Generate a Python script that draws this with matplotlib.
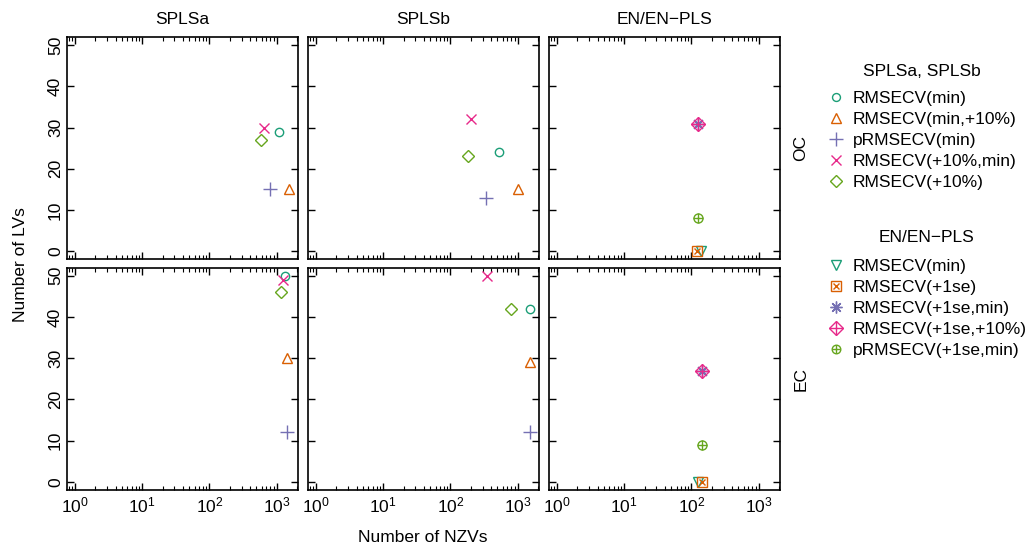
import matplotlib
matplotlib.use("Agg")
import matplotlib.pyplot as plt
from matplotlib.lines import Line2D
from matplotlib.legend_handler import HandlerTuple
from matplotlib.ticker import LogLocator, FixedLocator, NullFormatter, LogFormatterSciNotation

plt.rcParams['font.family'] = ['Liberation Sans', 'DejaVu Sans']
plt.rcParams['mathtext.fontset'] = 'custom'
plt.rcParams['mathtext.rm'] = 'Liberation Sans'
plt.rcParams['mathtext.it'] = 'Liberation Sans:italic'

# ---------------- data ----------------
methods = ["SPLSa", "SPLSb", "EN/EN\u2212PLS"]
responses = ["OC", "EC"]

spls_labels = ["RMSECV(min)", "RMSECV(min,+10%)", "pRMSECV(min)",
               "RMSECV(+10%,min)", "RMSECV(+10%)"]
en_labels = ["RMSECV(min)", "RMSECV(+1se)", "RMSECV(+1se,min)",
             "RMSECV(+1se,+10%)", "pRMSECV(+1se,min)"]

# number of non-zero variables (x) and number of latent variables (y)
splsa_oc_nzv = [1080, 1510, 800, 640, 590]
splsa_oc_lv = [29, 15, 15, 30, 27]
splsb_oc_nzv = [525, 1030, 343, 200, 184]
splsb_oc_lv = [24, 15, 13, 32, 23]
en_oc_nzv = [141, 122, 124, 124, 124]
en_oc_lv = [0, 0, 31, 31, 8]

splsa_ec_nzv = [1340, 1450, 1450, 1225, 1155]
splsa_ec_lv = [50, 30, 12, 49, 46]
splsb_ec_nzv = [1510, 1540, 1510, 347, 810]
splsb_ec_lv = [42, 29, 12, 50, 42]
en_ec_nzv = [126, 142, 142, 142, 142]
en_ec_lv = [0, 0, 27, 27, 9]

panels = {
    ("OC", 0): (splsa_oc_nzv, splsa_oc_lv),
    ("OC", 1): (splsb_oc_nzv, splsb_oc_lv),
    ("OC", 2): (en_oc_nzv, en_oc_lv),
    ("EC", 0): (splsa_ec_nzv, splsa_ec_lv),
    ("EC", 1): (splsb_ec_nzv, splsb_ec_lv),
    ("EC", 2): (en_ec_nzv, en_ec_lv),
}

# ---------------- styles ----------------
teal, orange, purple, pink, green = "#1B9E77", "#D95F02", "#7570B3", "#E7298A", "#66A61E"
colors = [teal, orange, purple, pink, green]

# each style is a list of (marker, size) layers
spls_styles = [[("o", 6.0)], [("^", 7.5)], [("+", 10)], [("x", 7)], [("D", 6.0)]]
en_styles = [[("v", 7.5)], [("s", 7), ("x", 5)], [((8, 2, 0), 9)],
             [("D", 7.5), ("+", 10)], [("o", 6.5), ("+", 6.5)]]

W, H = 1031, 548
fig = plt.figure(figsize=(W / 100, H / 100), dpi=100)

col_left = [66.5, 307.5, 548.5]
col_w = 231.5
row_top = [37.0, 267.5]
row_h = 222.5

xlim = (10 ** -0.128, 10 ** 3.318)
ylim = (-2, 52)

axes = {}
for r, resp in enumerate(responses):
    for c in range(3):
        ax = fig.add_axes([col_left[c] / W, 1 - (row_top[r] + row_h) / H,
                           col_w / W, row_h / H])
        axes[(resp, c)] = ax
        xs, ys = panels[(resp, c)]
        styles = spls_styles if c < 2 else en_styles
        for i in range(5):
            for m, s in styles[i]:
                ax.plot([xs[i]], [ys[i]], linestyle="none", marker=m, markersize=s,
                        markerfacecolor="none", markeredgecolor=colors[i],
                        markeredgewidth=1.0, clip_on=False)
        ax.set_xscale("log")
        ax.set_xlim(*xlim)
        ax.set_ylim(*ylim)
        ax.xaxis.set_major_locator(FixedLocator([1, 10, 100, 1000]))
        ax.xaxis.set_minor_locator(LogLocator(base=10, subs=range(2, 10), numticks=20))
        ax.xaxis.set_major_formatter(LogFormatterSciNotation())
        ax.xaxis.set_minor_formatter(NullFormatter())
        ax.set_yticks([0, 10, 20, 30, 40, 50])
        ax.tick_params(which="major", direction="in", length=5, width=1.0,
                       top=True, right=True, labelsize=12.5, color="black")
        ax.tick_params(which="minor", direction="in", length=3, width=0.8,
                       top=True, right=True)
        ax.tick_params(axis="y", which="major", pad=2.5)
        ax.tick_params(axis="x", which="major", pad=4)
        for sp in ax.spines.values():
            sp.set_linewidth(1.2)
        if r == 0:
            ax.tick_params(labelbottom=False)
        if c > 0:
            ax.tick_params(labelleft=False)
        else:
            for lab in ax.get_yticklabels():
                lab.set_rotation(90)
                lab.set_va("center")

# strip labels
for c in range(3):
    fig.text((col_left[c] + col_w / 2) / W, 1 - 19 / H, methods[c],
             ha="center", va="center", fontsize=12.5)
for r, resp in enumerate(responses):
    fig.text(801 / W, 1 - (row_top[r] + row_h / 2) / H, resp, ha="center",
             va="center", rotation=90, fontsize=12.5)

fig.text(423 / W, 1 - 537 / H, "Number of NZVs", ha="center", va="center", fontsize=12.5)
fig.text(21 / W, 1 - 265 / H, "Number of LVs", ha="center", va="center",
         rotation=90, fontsize=12.5)

# legends
def make_handles(styles):
    hs = []
    for i, st in enumerate(styles):
        parts = [Line2D([], [], linestyle="none", marker=m, markersize=s * 0.95,
                        markerfacecolor="none", markeredgecolor=colors[i],
                        markeredgewidth=1.0) for m, s in st]
        hs.append(tuple(parts) if len(parts) > 1 else parts[0])
    return hs

leg_kw = dict(loc="upper left", frameon=False, fontsize=12.5,
              handlelength=1.0, handletextpad=0.5, labelspacing=0.34,
              borderpad=0, borderaxespad=0,
              handler_map={tuple: HandlerTuple(ndivide=1)})

fig.text(921.5 / W, 1 - 71 / H, "SPLSa, SPLSb", ha="center", va="center", fontsize=12.5)
fig.legend(make_handles(spls_styles), spls_labels,
           bbox_to_anchor=(827 / W, 1 - 91 / H), **leg_kw)
fig.text(926.5 / W, 1 - 237.5 / H, "EN/EN\u2212PLS", ha="center", va="center", fontsize=12.5)
fig.legend(make_handles(en_styles), en_labels,
           bbox_to_anchor=(827 / W, 1 - 258.5 / H), **leg_kw)

fig.savefig("out.png", dpi=100)
